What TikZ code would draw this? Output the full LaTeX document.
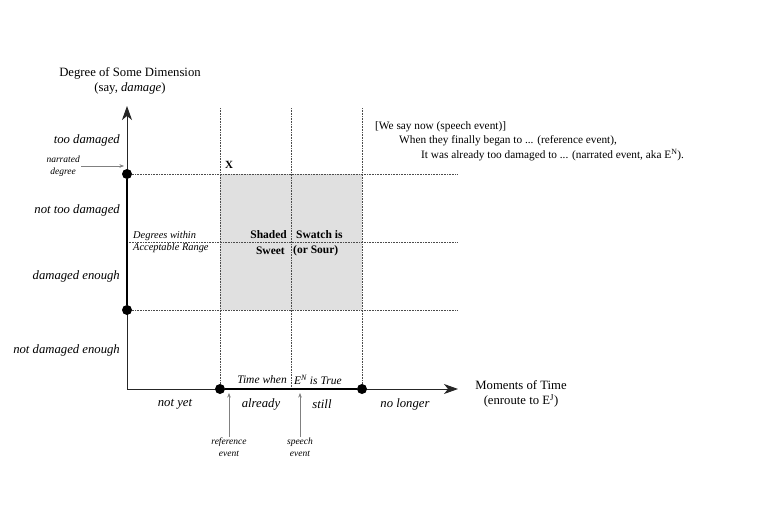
\documentclass[tikz,border=0pt]{standalone}
\usepackage{fontspec}
\setmainfont{Liberation Serif}
\usetikzlibrary{arrows.meta}
\tikzset{
  grid line/.style={densely dotted, line width=0.6pt, black!70},
  axis line/.style={line width=1pt, black!85, -{Stealth[length=14pt,width=10pt,inset=4pt]}},
  range line/.style={line width=2.8pt, black},
  pointer/.style={line width=0.5pt, black!50, -{Stealth[length=4.5pt,width=3.5pt]}},
  dot/.style={circle, fill=black, inner sep=0pt, minimum size=10pt},
  label/.style={font=\fontsize{12.7}{15}\selectfont\itshape, inner sep=1pt},
  tiny/.style={font=\fontsize{9.5}{12}\selectfont\itshape, align=center, inner sep=1pt},
  swatch/.style={font=\fontsize{11.5}{13}\selectfont\bfseries, inner sep=1pt},
  remark/.style={font=\fontsize{11.3}{13}\selectfont, anchor=west, inner sep=1pt}
}

\begin{document}
\begin{tikzpicture}[x=1pt, y=-1pt]
			\useasboundingbox (0,0) rectangle (764,506);
			%%%%% START %%%%%
			\coordinate (o) at (127,389);
			\coordinate (ytop) at (127,106);
			\coordinate (xend) at (458,389);
			
			\fill[black!12] (220,174) rectangle (362,310);
			
			\draw[grid line] (220,108) -- (220,389);
			\draw[grid line] (291,108) -- (291,389);
			\draw[grid line] (362,108) -- (362,389);
			\draw[grid line] (127,174) -- (457,174);
			\draw[grid line] (127,242) -- (457,242);
			\draw[grid line] (127,310) -- (457,310);
			
			\draw[axis line] (o) -- (ytop);
			\draw[axis line] (o) -- (xend);
			
			\node[dot] (narr) at (127,174) {};
			\node[dot] (low) at (127,310) {};
			\node[dot] (ref) at (220,389) {};
			\node[dot] (last) at (362,389) {};
			\draw[range line] (narr) -- (low);
			\draw[range line] (ref) -- (last);
			
			\node[font=\fontsize{12.7}{14.5}\selectfont, align=center] (ytitle) at (130,81) {Degree of Some Dimension\\(say, \textit{damage})};
			\node[font=\fontsize{12.7}{14.5}\selectfont, align=center] (xtitle) at (521,394) {Moments of Time\\(enroute to E\textsuperscript{J})};
			
			\node[label, anchor=east] (too) at (121,140) {too damaged};
			\node[label, anchor=east] (nottoo) at (121,210) {not too damaged};
			\node[label, anchor=east] (enough) at (121,276) {damaged enough};
			\node[label, anchor=east] (notenough) at (121,350) {not damaged enough};
			
			\node[tiny, anchor=east] (narrlab) at (81,166) {narrated\\degree};
			\coordinate (narrtip) at (124,166);
			\draw[pointer] (narrlab) -- (narrtip);
			
			\node[font=\fontsize{11}{13}\selectfont\bfseries] (xmark) at (229,165) {X};
			
			\node[font=\fontsize{10.4}{12.5}\selectfont\itshape, anchor=west, align=left, inner sep=1pt] (within) at (132,242) {Degrees within\\Acceptable Range};
			
			\node[swatch, anchor=east] (s1) at (288,235) {Shaded};
			\node[swatch, anchor=west] (s2) at (295,235) {Swatch is};
			\node[swatch, anchor=east] (s3) at (286,251) {Sweet};
			\node[swatch, anchor=west] (s4) at (292,251) {(or Sour)};
			
			\node[remark] (say1) at (374,127) {[We say now (speech event)]};
			\node[remark] (say2) at (398,141) {When they finally began to ... (reference event),};
			\node[remark] (say3) at (420,155) {It was already too damaged to ... (narrated event, aka E\textsuperscript{N}).};
			
			\node[font=\fontsize{11.5}{13}\selectfont\itshape, inner sep=1pt, anchor=east] (when) at (288,380) {Time when};
			\node[font=\fontsize{11.5}{13}\selectfont\itshape, inner sep=1pt, anchor=west] (true) at (293,380) {E\textsuperscript{N} is True};
			
			\node[label] (notyet) at (175,404) {not yet};
			\node[label] (already) at (261,404) {already};
			\node[label] (still) at (322,404) {still};
			\node[label] (nolonger) at (405,404) {no longer};
			
			\node[tiny, anchor=north] (reflab) at (229,437) {reference\\event};
			\node[tiny, anchor=north] (speechlab) at (300,437) {speech\\event};
			\coordinate (reftip) at (229,393);
			\coordinate (speechtip) at (300,393);
			\draw[pointer] (reflab) -- (reftip);
			\draw[pointer] (speechlab) -- (speechtip);
			%%%%% END %%%%%
		\end{tikzpicture}
\end{document}
